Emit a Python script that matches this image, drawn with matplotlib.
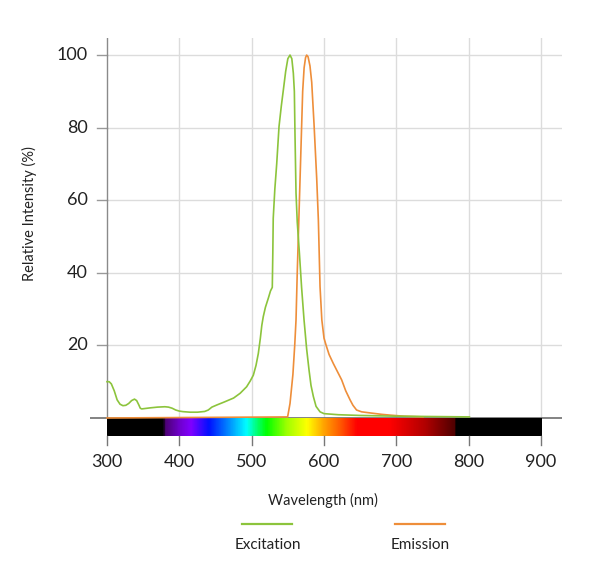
import numpy as np
import matplotlib
matplotlib.use("Agg")
import matplotlib.pyplot as plt
from matplotlib.colors import LinearSegmentedColormap
from matplotlib.lines import Line2D

plt.rcParams["font.family"] = ["Lato", "DejaVu Sans"]

# excitation spectrum (nm, %)
EX_WL = [300, 303, 306, 310, 314, 318, 322, 326, 330, 334, 338, 341, 344, 346, 348, 352,
         360, 370, 380, 385, 390, 395, 400, 405, 415, 425, 435, 440, 445, 452, 462, 475,
         484, 493, 498, 502.3, 506, 509.2, 512, 514, 516, 519, 523, 526, 528.5, 529.2,
         529.8, 532, 534.6, 537.8, 541, 543.8, 547, 550, 553, 555.5, 557.6, 559, 559.9,
         561.3, 563, 566, 569, 572.4, 576, 579.3, 582, 585.3, 589, 594.5, 600, 620, 650,
         700, 750, 801]
EX_VAL = [10, 10, 9.4, 7.5, 5.0, 3.8, 3.4, 3.5, 4.0, 4.8, 5.2, 4.8, 3.6, 2.7, 2.5, 2.6,
          2.8, 3.0, 3.1, 3.0, 2.7, 2.2, 1.9, 1.75, 1.6, 1.6, 1.8, 2.2, 3.0, 3.6, 4.4, 5.5,
          6.8, 8.6, 10.2, 11.8, 14.5, 17.8, 22, 25.5, 27.9, 30.5, 33, 35, 36, 45,
          55, 63, 70, 80.3, 86, 90.4, 95.5, 99, 100, 99, 95, 90, 78,
          62, 54, 45.4, 36, 27, 19, 13.2, 9, 5.9, 3.2, 1.7, 1.2, 0.9, 0.7,
          0.5, 0.4, 0.3]

# emission spectrum (nm, %)
EM_WL = [300, 549.7, 553, 557, 559.5, 561.3, 563, 564.5, 566, 567.5, 569, 570.5, 572.5,
         574.5, 576, 578, 580.6, 583, 586.2, 589.9, 592.2, 594.5, 597, 600, 602.8, 607,
         612.9, 618, 624.4, 630, 636, 640, 645, 652, 663.6, 680, 691, 710, 737]
EM_VAL = [0, 0.3, 4, 12, 20, 27, 40, 50, 60, 70, 80, 90, 96.5,
          99.3, 100, 99.5, 97, 92.5, 81, 66, 54.5, 36.2, 27, 22, 20.1, 17.5,
          15, 13, 10.5, 7.5, 5, 3.5, 2.2, 1.7, 1.4, 1.0, 0.8, 0.5, 0.3]

# visible spectrum colour stops for the bar
BAR_WL = [300, 377, 379, 400, 415, 440, 465, 492, 505, 520, 548, 576, 600, 620, 645, 690,
          740, 780, 782, 900]
BAR_COL = ["#000000", "#000000", "#4B0070", "#7000D0", "#8000FF", "#0010FF", "#0080FF",
           "#00FFFF", "#00FF80", "#00FF00", "#A0FF00", "#FFFF00", "#FFA000", "#FF6000",
           "#FF0000", "#FF0000", "#B00000", "#500000", "#000000", "#000000"]

X_TICKS = [300, 400, 500, 600, 700, 800, 900]
Y_TICKS = [20, 40, 60, 80, 100]

GREEN = "#8CC43C"
ORANGE = "#EE8E3A"
TXT = "#222222"

W, H = 600, 588
fig = plt.figure(figsize=(W / 100, H / 100), dpi=100)
ax = fig.add_axes([90 / W, 1 - 445 / H, (562 - 90) / W, (445 - 38) / H])
ax.set_xlim(276.5, 929)
ax.set_ylim(-7.44, 104.7)
ax.axis("off")

# grid, ticks and left axis line
for y in Y_TICKS:
    ax.plot([300, 929], [y, y], color="#DCDCDC", lw=1, zorder=0)
    ax.plot([286.2, 300], [y, y], color="#999999", lw=1, zorder=1)
for x in X_TICKS[1:]:
    ax.plot([x, x], [0, 104.7], color="#DCDCDC", lw=1, zorder=0)
ax.plot([300, 300], [0, 104.7], color="#8A8A8A", lw=1, zorder=1)
ax.axhline(0, color="#6E6E6E", lw=1.2, zorder=1)

# spectrum bar
stops = [((w - 300) / 600, c) for w, c in zip(BAR_WL, BAR_COL)]
cmap = LinearSegmentedColormap.from_list("vis", stops)
ramp = np.linspace(0, 1, 1200).reshape(1, -1)
ax.imshow(ramp, cmap=cmap, aspect="auto", extent=(300, 900, -5, -0.3), zorder=2,
          interpolation="bilinear")

for x in X_TICKS:
    ax.plot([x, x], [-5, -7.44], color="#777777", lw=1, clip_on=False)
    ax.text(x, -12.2, str(x), ha="center", va="center", fontsize=13, color=TXT,
            clip_on=False)
for y in Y_TICKS:
    ax.text(273.5, y, str(y), ha="right", va="center", fontsize=13, color=TXT)

ax.plot(EM_WL, EM_VAL, color=ORANGE, lw=1.2, zorder=3)
ax.plot(EX_WL, EX_VAL, color=GREEN, lw=1.2, zorder=4)

fig.text(29 / W, 1 - 214 / H, "Relative Intensity (%)", rotation=90, ha="center",
         va="center", fontsize=10.5, color=TXT)
fig.text(323 / W, 1 - 500 / H, "Wavelength (nm)", ha="center", va="center",
         fontsize=10.5, color=TXT)

# legend
fig.add_artist(Line2D([242 / W, 292 / W], [1 - 524 / H] * 2, color=GREEN, lw=1.6))
fig.add_artist(Line2D([395 / W, 445 / W], [1 - 524 / H] * 2, color=ORANGE, lw=1.6))
fig.text(268 / W, 1 - 545 / H, "Excitation", ha="center", va="center", fontsize=11,
         color=TXT)
fig.text(420 / W, 1 - 545 / H, "Emission", ha="center", va="center", fontsize=11,
         color=TXT)

fig.savefig("out.png", dpi=100)
